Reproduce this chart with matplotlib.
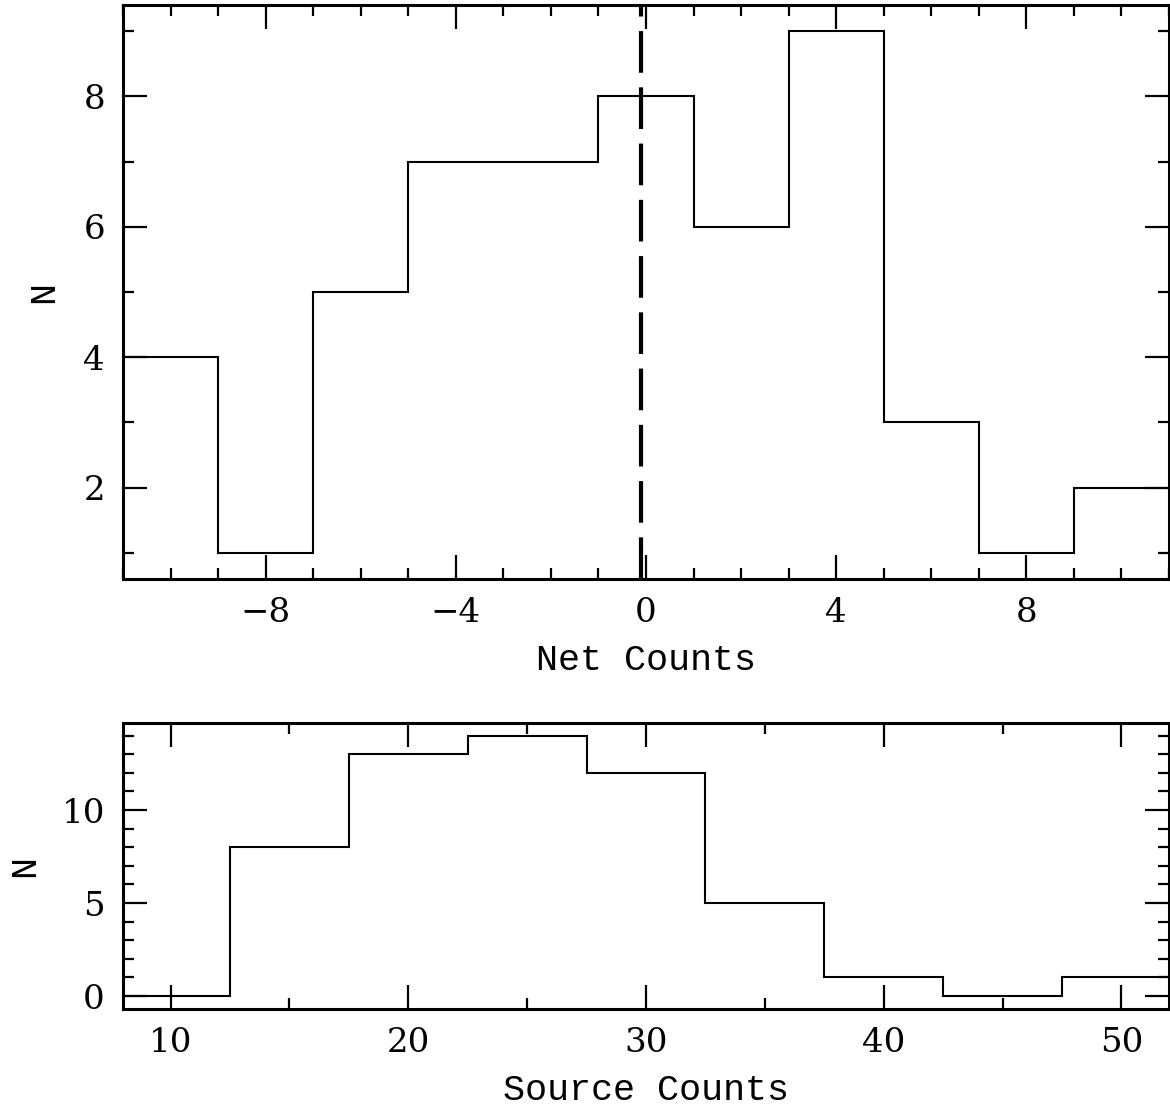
import numpy as np
import matplotlib.pyplot as plt
from matplotlib.ticker import MultipleLocator

# net counts histogram (top)
net_edges = [-11, -9, -7, -5, -3, -1, 1, 3, 5, 7, 9, 11]
net_n = [4, 1, 5, 7, 7, 8, 6, 9, 3, 1, 2]
net_mark = -0.1

# source counts histogram (bottom)
src_edges = [7.5, 12.5, 17.5, 22.5, 27.5, 32.5, 37.5, 42.5, 47.5, 52.5]
src_n = [0, 8, 13, 14, 12, 5, 1, 0, 1]

plt.rcParams['font.family'] = ['DejaVu Serif']
plt.rcParams['font.size'] = 24.5
lab = dict(family=['Liberation Mono', 'DejaVu Sans Mono'], size=26.5)

fig = plt.figure(figsize=(11.7, 11.12), dpi=100)
ax1 = fig.add_axes([0.1051, 0.4793, 0.894, 0.5162])
ax2 = fig.add_axes([0.1051, 0.0926, 0.894, 0.2575])


def style(ax):
    for s in ax.spines.values():
        s.set_linewidth(2.2)
    ax.tick_params(which='both', direction='in', top=True, right=True,
                   width=1.6, colors='black')
    ax.tick_params(which='major', length=17, pad=13)
    ax.tick_params(which='minor', length=8)


ax1.stairs(net_n, net_edges, baseline=None, color='black', lw=1.5)
ax1.axvline(net_mark, color='black', lw=3, dashes=(10, 3.5))
ax1.set_xlim(-11, 11)
ax1.set_ylim(0.6, 9.4)
ax1.xaxis.set_major_locator(MultipleLocator(4))
ax1.xaxis.set_minor_locator(MultipleLocator(1))
ax1.yaxis.set_major_locator(MultipleLocator(2))
ax1.yaxis.set_minor_locator(MultipleLocator(1))
ax1.set_xlabel('Net Counts', labelpad=10, **lab)
ax1.set_ylabel('N', labelpad=16, **lab)
style(ax1)

ax2.stairs(src_n, src_edges, baseline=None, color='black', lw=1.5)
ax2.set_xlim(8, 52)
ax2.set_ylim(-0.7, 14.7)
ax2.xaxis.set_major_locator(MultipleLocator(10))
ax2.xaxis.set_minor_locator(MultipleLocator(5))
ax2.yaxis.set_major_locator(MultipleLocator(5))
ax2.yaxis.set_minor_locator(MultipleLocator(1))
ax2.set_xlabel('Source Counts', labelpad=10, **lab)
ax2.set_ylabel('N', labelpad=14, **lab)
style(ax2)

fig.savefig('out.png', dpi=100)
